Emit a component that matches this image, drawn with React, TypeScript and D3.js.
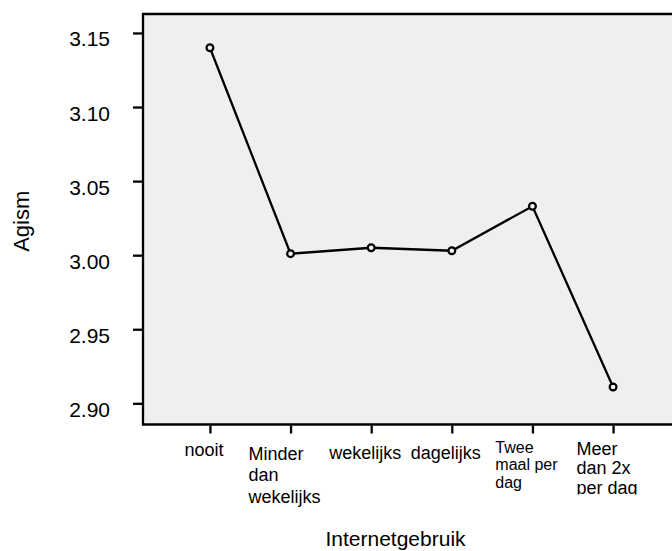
import React, { useEffect, useRef } from 'react';
import * as d3 from 'd3';

// Internetgebruik categories and mean Agism
const categories = ['nooit', 'Minder dan wekelijks', 'wekelijks', 'dagelijks', 'Twee maal per dag', 'Meer dan 2x per dag'];
const categoryLines = [['nooit'], ['Minder', 'dan', 'wekelijks'], ['wekelijks'], ['dagelijks'], ['Twee', 'maal per', 'dag'], ['Meer', 'dan 2x', 'per dag']];
const agismMeans = [3.140, 3.001, 3.005, 3.003, 3.033, 2.911];
const yTicks = [2.90, 2.95, 3.00, 3.05, 3.10, 3.15];

const WIDTH = 672;
const HEIGHT = 551;
const FONT = '"Liberation Sans", Arial, sans-serif';

// per-label text styling (font size, first baseline offset, line height, clip bottom)
const labelStyle = [
  { size: 18, first: 31, lh: 21.5, clip: 0 },
  { size: 18, first: 35, lh: 21.5, clip: 0 },
  { size: 18, first: 34, lh: 21.5, clip: 0 },
  { size: 18, first: 34, lh: 21.5, clip: 0 },
  { size: 16, first: 28, lh: 17.5, clip: 0 },
  { size: 18, first: 30, lh: 19.5, clip: 70 },
];

const App: React.FC = () => {
  const svgRef = useRef<SVGSVGElement>(null);

  useEffect(() => {
    if (!svgRef.current) return;
    const svg = d3.select(svgRef.current);
    svg.selectAll('*').remove();

    const plot = { left: 143, top: 14, right: 680, bottom: 424.5 };

    const x = d3.scalePoint<string>()
      .domain(categories)
      .range([plot.left, plot.right])
      .padding(0.83);

    const y = d3.scaleLinear()
      .domain([2.8857, 3.1628])
      .range([plot.bottom, plot.top]);

    // plot background + frame
    svg.append('rect')
      .attr('x', plot.left)
      .attr('y', plot.top)
      .attr('width', plot.right - plot.left)
      .attr('height', plot.bottom - plot.top)
      .attr('fill', '#efefef');

    svg.append('path')
      .attr('d', `M${plot.right},${plot.top}H${plot.left}V${plot.bottom}H${plot.right}`)
      .attr('fill', 'none')
      .attr('stroke', '#000')
      .attr('stroke-width', 2.3);

    // Y axis
    const yAxis = svg.append('g')
      .attr('transform', `translate(${plot.left - 1},0)`)
      .call(d3.axisLeft(y).tickValues(yTicks).tickSize(9).tickPadding(23).tickFormat(d3.format('.2f')));
    yAxis.select('.domain').remove();
    yAxis.selectAll('line').attr('stroke', '#000').attr('stroke-width', 2.3);
    yAxis.selectAll('text')
      .attr('fill', '#000')
      .attr('dy', '0.62em')
      .style('font-family', FONT)
      .style('font-size', '21px');

    // X axis ticks
    const xAxis = svg.append('g')
      .attr('transform', `translate(0,${plot.bottom + 1})`)
      .call(d3.axisBottom(x).tickSize(8).tickFormat(() => ''));
    xAxis.select('.domain').remove();
    xAxis.selectAll('line').attr('stroke', '#000').attr('stroke-width', 2.3);

    // X tick labels, wrapped, left aligned within a centered block
    const defs = svg.append('defs');
    categories.forEach((cat, i) => {
      const st = labelStyle[i];
      const g = svg.append('g');
      if (st.clip) {
        const id = `clip-${i}`;
        defs.append('clipPath').attr('id', id)
          .append('rect')
          .attr('x', 0).attr('y', 0)
          .attr('width', WIDTH)
          .attr('height', plot.bottom + st.clip);
        g.attr('clip-path', `url(#${id})`);
      }
      const texts = categoryLines[i].map((line, j) =>
        g.append('text')
          .attr('y', plot.bottom + st.first + j * st.lh)
          .attr('fill', '#000')
          .style('font-family', FONT)
          .style('font-size', `${st.size}px`)
          .text(line)
      );
      const w = d3.max(texts, t => (t.node() as SVGTextElement).getComputedTextLength()) || 0;
      const left = (x(cat) || 0) - 6 - w / 2;
      texts.forEach(t => t.attr('x', left));
    });

    // line
    const line = d3.line<number>()
      .x((_, i) => x(categories[i]) || 0)
      .y(d => y(d));

    svg.append('path')
      .datum(agismMeans)
      .attr('fill', 'none')
      .attr('stroke', '#000')
      .attr('stroke-width', 2.3)
      .attr('d', line);

    svg.selectAll('.dot')
      .data(agismMeans)
      .enter()
      .append('circle')
      .attr('class', 'dot')
      .attr('cx', (_, i) => x(categories[i]) || 0)
      .attr('cy', d => y(d))
      .attr('r', 3.4)
      .attr('fill', '#efefef')
      .attr('stroke', '#000')
      .attr('stroke-width', 2.2);

    // axis titles
    svg.append('text')
      .attr('transform', `translate(29,${(plot.top + plot.bottom) / 2 + 2}) rotate(-90)`)
      .attr('text-anchor', 'middle')
      .style('font-family', FONT)
      .style('font-size', '22px')
      .text('Agism');

    svg.append('text')
      .attr('x', 395.5)
      .attr('y', 546)
      .attr('text-anchor', 'middle')
      .style('font-family', FONT)
      .style('font-size', '21px')
      .text('Internetgebruik');
  }, []);

  return (
    <svg
      ref={svgRef}
      width={WIDTH}
      height={HEIGHT}
      style={{ position: 'absolute', left: 0, top: 0, background: '#fff' }}
    />
  );
};

export default App;
